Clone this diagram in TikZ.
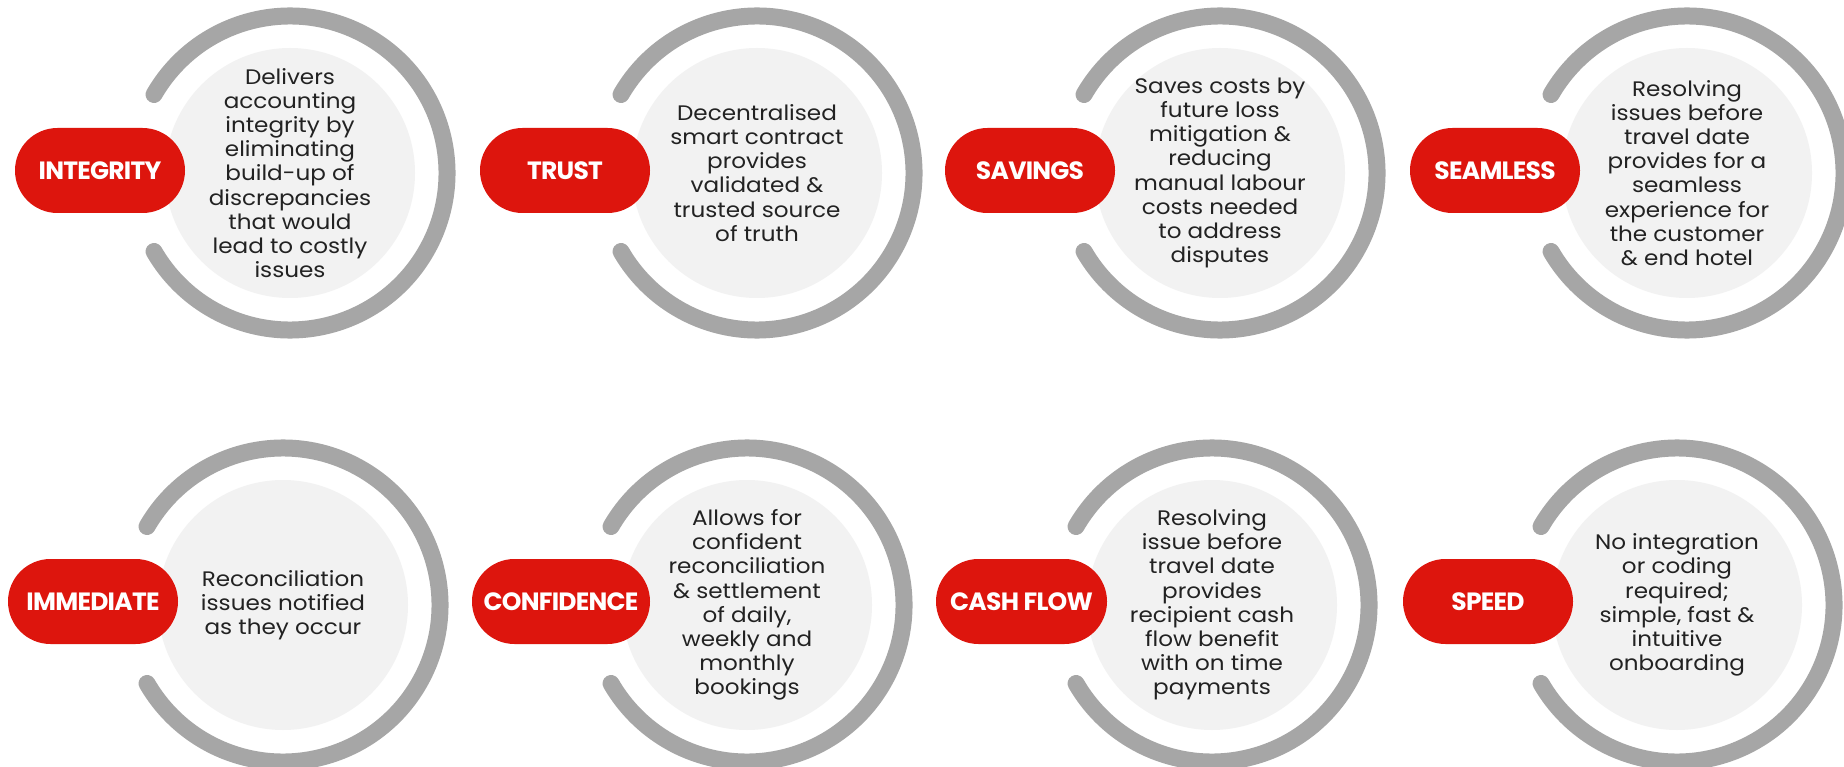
\documentclass[tikz,border=0pt]{standalone}
\usepackage{fontspec}
\setmainfont{Poppins}[FakeStretch=1.1]
\newfontfamily\labelfont[LetterSpace=-3]{Poppins}
\definecolor{pillred}{HTML}{DD150D}
\definecolor{ringgray}{HTML}{A6A6A6}
\definecolor{fillgray}{HTML}{F2F2F2}
\definecolor{txtdark}{HTML}{222222}
\tikzset{
  disc/.style={circle, fill=fillgray, minimum size=250pt, inner sep=0pt},
  ring/.style={draw=ringgray, line width=17pt, line cap=round},
  pill/.style={rectangle, rounded corners=42.5pt, fill=pillred, minimum height=85pt,
    inner sep=0pt, text=white, font=\labelfont\bfseries\fontsize{25}{25}\selectfont},
  body/.style={align=center, text=txtdark, inner sep=0pt, font=\fontsize{21}{24.2}\selectfont},
}
% #1 name, #2 ring cx, #3 ring cy, #4 pill cx, #5 pill width, #6 pill lift, #7 label, #8 text
\newcommand\benefit[8]{%
  \node[disc] (#1disc) at (#2,-#3) {};
  \draw[ring] ([shift={(150:157pt)}]#1disc.center) arc[start angle=150, end angle=-150, radius=157pt];
  \node[pill, minimum width=#5] (#1pill) at (#4,-#3+#6) {#7};
  \node[body] (#1text) at (#2,-#3) {#8};
}
\begin{document}
\begin{tikzpicture}[x=1pt,y=1pt]
\fill[white] (0,0) rectangle (1844,-767);
\useasboundingbox (0,0) rectangle (1844,-767);
\benefit{integ}{290}{173}{100}{170pt}{2.5}{INTEGRITY}{Delivers\\accounting\\integrity by\\eliminating\\build-up of\\discrepancies\\that would\\lead to costly\\issues}
\benefit{trust}{757}{173}{565}{170pt}{2.5}{TRUST}{Decentralised\\smart contract\\provides\\validated \&\\trusted source\\of truth}
\benefit{sav}{1220}{173}{1030}{170pt}{2.5}{SAVINGS}{Saves costs by\\future loss\\mitigation \&\\reducing\\manual labour\\costs needed\\to address\\disputes}
\benefit{seam}{1687}{173}{1495}{170pt}{2.5}{SEAMLESS}{Resolving\\issues before\\travel date\\provides for a\\seamless\\experience for\\the customer\\\& end hotel}
\benefit{imm}{283}{605}{93}{170pt}{3.5}{IMMEDIATE}{Reconciliation\\issues notified\\as they occur}
\benefit{conf}{747}{605}{561}{178pt}{3.5}{CONFIDENCE}{Allows for\\confident\\reconciliation\\\& settlement\\of daily,\\weekly and\\monthly\\bookings}
\benefit{cash}{1212}{605}{1021.5}{171pt}{3.5}{CASH FLOW}{Resolving\\issue before\\travel date\\provides\\recipient cash\\flow benefit\\with on time\\payments}
\benefit{speed}{1677}{605}{1488}{170pt}{3.5}{SPEED}{No integration\\or coding\\required;\\simple, fast \&\\intuitive\\onboarding}
\end{tikzpicture}
\end{document}
